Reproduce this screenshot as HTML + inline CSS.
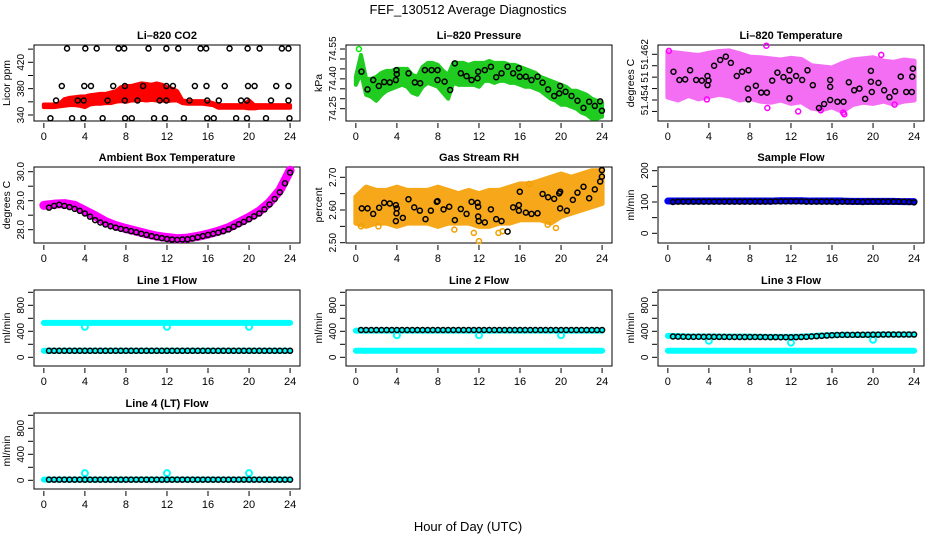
<!DOCTYPE html>
<html><head><meta charset="utf-8"><style>
html,body{margin:0;padding:0;background:#fff;}
svg{display:block;font-family:"Liberation Sans",Arial,sans-serif;}
</style></head><body>
<svg id="chart" width="936" height="540" viewBox="0 0 936 540" xmlns="http://www.w3.org/2000/svg">
<rect x="0" y="0" width="936" height="540" fill="#fff"/>
<text x="468" y="14" text-anchor="middle" font-size="13">FEF_130512  Average Diagnostics</text>
<text x="468" y="531" text-anchor="middle" font-size="13">Hour of Day (UTC)</text>
</svg>
<script>
// ---------- data ----------
const xTicks=[0,4,8,12,16,20,24];
const halfHours=[0,0.5,1,1.5,2,2.5,3,3.5,4,4.5,5,5.5,6,6.5,7,7.5,8,8.5,9,9.5,10,10.5,11,11.5,12,12.5,13,13.5,14,14.5,15,15.5,16,16.5,17,17.5,18,18.5,19,19.5,20,20.5,21,21.5,22,22.5,23,23.5,24];
const hours=[0,1,2,3,4,5,6,7,8,9,10,11,12,13,14,15,16,17,18,19,20,21,22,23,24];
const blackHours=[0.5,1,1.5,2,2.5,3,3.5,4,4.5,5,5.5,6,6.5,7,7.5,8,8.5,9,9.5,10,10.5,11,11.5,12,12.5,13,13.5,14,14.5,15,15.5,16,16.5,17,17.5,18,18.5,19,19.5,20,20.5,21,21.5,22,22.5,23,23.5,24];

// CO2
const co2Lo=[352,352,352,353,354,355,355,354,352,356,357,357,358,358,360,361,360,362,362,363,362,363,362,362,361,362,362,358,357,357,357,357,356,355,351,351,351,351,351,351,350,350,351,351,351,351,351,351,351];
const co2Hi=[356,356,356,357,364,366,367,368,368,370,371,372,372,374,376,382,384,384,386,388,387,386,388,386,382,380,376,362,361,361,361,361,360,358,355,355,355,355,355,355,362,355,355,355,355,355,355,355,355];
const co2BlackHours=[2.26,4.04,5.15,7.28,7.83,10.2,11.94,13.1,15.27,15.82,18.1,19.86,21.03,23.2,23.84,
 1.75,3.94,4.59,6.76,7.9,9.67,11.94,12.58,14.72,15.85,17.63,19.9,20.54,22.65,23.84,
 1.19,3.3,3.88,6.21,7.89,9.13,11.29,11.94,14.2,15.92,17.05,19.22,19.8,22.14,23.84,
 0.64,2.75,3.85,5.73,7.92,8.57,10.74,11.8,13.65,15.92,16.56,18.74,19.8,21.65,23.94];
const co2BlackVals=[441,441,441,441,441,441,441,441,441,441,441,441,441,441,441,
 384,384,384,384,384,384,384,384,384,384,384,384,384,384,384,
 362,362,362,362,362,362,362,362,362,362,362,362,362,362,362,
 335,335,335,335,335,335,335,335,335,335,335,335,335,335,335];

// Pressure
const presLo=[74.37,74.43,74.32,74.31,74.29,74.32,74.34,74.35,74.36,74.37,74.36,74.33,74.32,74.36,74.38,74.37,74.36,74.33,74.30,74.38,74.37,74.37,74.37,74.37,74.36,74.39,74.39,74.38,74.39,74.39,74.38,74.38,74.37,74.36,74.36,74.35,74.34,74.32,74.30,74.29,74.27,74.27,74.26,74.25,74.23,74.22,74.20,74.20,74.21];
const presHi=[74.41,74.52,74.40,74.40,74.41,74.43,74.44,74.44,74.45,74.45,74.45,74.42,74.41,74.46,74.48,74.48,74.47,74.44,74.42,74.48,74.48,74.48,74.47,74.48,74.48,74.48,74.49,74.48,74.48,74.48,74.47,74.47,74.46,74.45,74.44,74.43,74.41,74.40,74.39,74.38,74.37,74.36,74.34,74.34,74.33,74.32,74.30,74.29,74.28];
const presBlackHours=[0.55,1.14,1.69,2.24,2.76,3.31,3.9,3.96,3.99,5.14,5.75,6.27,6.73,7.38,7.96,7.96,8.65,9.19,9.65,10.23,10.79,11.28,11.86,11.92,12.57,13.16,13.68,14.2,14.79,15.33,15.89,15.98,16.57,17.12,17.71,18.2,18.74,19.33,19.82,19.91,20.44,21.02,21.6,22.19,22.74,23.29,23.81,23.98];
const presBlackVals=[74.436,74.347,74.394,74.364,74.384,74.382,74.394,74.444,74.424,74.428,74.382,74.378,74.444,74.444,74.394,74.444,74.386,74.344,74.478,74.428,74.414,74.394,74.403,74.436,74.444,74.461,74.408,74.428,74.461,74.428,74.453,74.411,74.411,74.394,74.411,74.381,74.347,74.314,74.327,74.364,74.335,74.314,74.29,74.254,74.285,74.264,74.287,74.24];
const presSpikeHours=[0.3];
const presSpikeVals=[74.55];

// Li-820 temperature
const tempLo=[51.4545,51.4540,51.4548,51.4542,51.4546,51.4550,51.4547,51.4540,51.4543,51.4538,51.4536,51.4540,51.4534,51.4537,51.4526,51.4523,51.4528,51.4520,51.4532,51.4536,51.4534,51.4538,51.4533,51.4538,51.4540];
const tempHi=[51.4624,51.4622,51.4620,51.4618,51.4622,51.4625,51.4626,51.4621,51.4615,51.4614,51.4612,51.4610,51.4613,51.4611,51.4600,51.4598,51.4596,51.4604,51.4610,51.4612,51.4614,51.4608,51.4606,51.4610,51.4608];
const tempOutHours=[0.1,9.6,12.7,17.1,17.2,22.1,3.8,9.7,14.9,20.8];
const tempOutVals=[51.4626,51.4635,51.4520,51.4518,51.4515,51.4532,51.4541,51.4526,51.4522,51.4619];
const tempBlackHours=[0.55,1.13,1.69,2.17,2.76,3.31,3.86,3.86,3.96,4.51,5.1,5.65,6.14,6.72,7.24,7.8,7.86,7.86,8.58,9.1,9.65,10.17,10.68,11.27,11.85,11.85,11.85,12.5,13.09,13.61,14.13,14.73,15.23,15.82,15.82,15.82,16.53,17.12,17.64,18.16,18.67,19.23,19.79,19.79,19.88,20.53,21.08,21.6,22.15,22.7,23.23,23.78,23.88,23.82];
const tempBlackVals=[51.45895,51.4575,51.4576,51.4592,51.4575,51.4574,51.4582,51.4566,51.4574,51.4600,51.4610,51.4616,51.4605,51.4582,51.45895,51.4560,51.4541,51.4592,51.4565,51.4553,51.4553,51.4574,51.4588,51.4580,51.4592,51.4574,51.4543,51.4582,51.4575,51.4592,51.4566,51.4526,51.4533,51.4575,51.4563,51.4540,51.4537,51.4537,51.4571,51.4557,51.4560,51.4542,51.4572,51.4591,51.4554,51.4570,51.4557,51.4545,51.4555,51.4581,51.4554,51.4554,51.4595,51.4581];

// Ambient box temperature
const ambLine=[28.84,28.88,28.90,28.84,28.66,28.48,28.28,28.14,28.04,27.95,27.86,27.78,27.73,27.69,27.71,27.77,27.85,27.95,28.07,28.25,28.43,28.64,28.94,29.36,30.05];
const ambBlack=[28.76,28.82,28.86,28.82,28.78,28.72,28.65,28.56,28.45,28.33,28.25,28.18,28.12,28.07,28.03,27.99,27.95,27.91,27.86,27.82,27.78,27.74,27.71,27.68,27.66,27.65,27.66,27.67,27.70,27.74,27.78,27.82,27.86,27.90,27.95,28.01,28.10,28.19,28.27,28.36,28.46,28.56,28.70,28.87,29.06,29.29,29.60,29.97];

// Gas stream RH
const rhHi=[2.64,2.67,2.66,2.66,2.67,2.66,2.66,2.66,2.67,2.66,2.65,2.66,2.65,2.66,2.66,2.67,2.68,2.68,2.69,2.70,2.71,2.70,2.71,2.72,2.72];
const rhLo=[2.56,2.55,2.56,2.56,2.55,2.56,2.56,2.56,2.55,2.56,2.56,2.56,2.55,2.55,2.56,2.56,2.57,2.57,2.57,2.56,2.58,2.59,2.60,2.61,2.62];
const rhOutHours=[12,11.5,14.3,13.9,19.5,9.6,2.2,18.7,16.9,0.5];
const rhOutVals=[2.505,2.53,2.535,2.53,2.545,2.54,2.55,2.555,2.68,2.55];
const rhBlackHours=[0.58,1.14,1.69,2.27,2.76,3.31,3.9,3.96,3.99,3.9,4.58,5.13,5.69,6.24,6.79,7.31,7.89,7.96,8.55,9.1,9.65,10.23,10.79,11.28,11.86,11.92,11.92,11.98,12.57,13.16,13.68,14.2,14.79,15.33,15.89,15.89,15.98,16.57,17.12,17.71,18.2,18.74,19.33,19.82,19.91,19.91,20.57,21.15,21.6,22.19,22.74,23.29,23.81,23.98,23.98];
const rhBlackVals=[2.605,2.605,2.588,2.607,2.622,2.62,2.615,2.59,2.605,2.566,2.576,2.633,2.608,2.598,2.572,2.598,2.625,2.627,2.602,2.61,2.569,2.603,2.588,2.625,2.622,2.61,2.58,2.566,2.562,2.602,2.572,2.566,2.534,2.608,2.598,2.615,2.656,2.592,2.588,2.59,2.649,2.639,2.634,2.651,2.656,2.605,2.598,2.631,2.653,2.671,2.636,2.663,2.687,2.702,2.722];

// Sample flow
const sampleBand=[103,103,103,103,103,103,103,103,103,103,103,104,104,104,103,103,103,103,102,102,102,102,102,101,101];
const sampleBlack=[100,101,101,101,101,101,101,101,101,101,101,101,101,101,101,101,101,101,101,101,102,102,102,102,102,102,101,101,101,101,101,101,100,101,101,101,101,100,101,101,101,101,101,101,101,101,100,99];

// Line flows
const dipHours=[4,12,20];
const line1Hi=[530,530,530,530,530,530,530,530,530,530,530,530,530,530,530,530,530,530,530,530,530,530,530,530,530];
const line1Lo=[100,100,100,100,100,100,100,100,100,100,100,100,100,100,100,100,100,100,100,100,100,100,100,100,100];
const line1Dips=[470,470,470];
const line1Black=[100,100,100,100,100,100,100,100,100,100,100,100,100,100,100,100,100,100,100,100,100,100,100,100,100,100,100,100,100,100,100,100,100,100,100,100,100,100,100,100,100,100,100,100,100,100,100,100];
const line2Hi=[410,410,410,410,410,410,410,410,410,410,410,410,410,410,410,410,410,410,410,410,410,410,410,410,410];
const line2Lo=[100,100,100,100,100,100,100,100,100,100,100,100,100,100,100,100,100,100,100,100,100,100,100,100,100];
const line2Dips=[340,340,340];
const line2Black=[420,420,420,420,420,420,420,420,420,420,420,420,420,420,420,420,420,420,420,420,420,420,420,420,420,420,420,420,420,420,420,420,420,420,420,420,420,420,420,420,420,420,420,420,420,420,420,420];
const line3Hi=[330,325,320,320,320,318,318,318,318,315,315,315,315,318,325,335,340,345,345,345,348,350,350,350,350];
const line3Lo=[100,100,100,100,100,100,100,100,100,100,100,100,100,100,100,100,100,100,100,100,100,100,100,100,100];
const line3Dips=[255,225,270];
const line3Black=[320,318,316,315,315,316,315,316,315,314,314,313,313,312,312,312,313,312,311,310,310,309,309,309,310,312,315,320,325,330,335,340,343,345,345,345,346,346,347,348,348,350,350,350,350,350,350,350];
const line4Hi=[10,10,10,10,10,10,10,10,10,10,10,10,10,10,10,10,10,10,10,10,10,10,10,10,10];
const line4Dips=[110,110,110];
const line4Black=[10,10,10,10,10,10,10,10,10,10,10,10,10,10,10,10,10,10,10,10,10,10,10,10,10,10,10,10,10,10,10,10,10,10,10,10,10,10,10,10,10,10,10,10,10,10,10,10];

// ---------- drawing ----------
const NS='http://www.w3.org/2000/svg';
const svg=document.getElementById('chart');
const COLX=[34,346,658], ROWY=[45,167,290,413], W=266, H=76;
function add(parent,tag,attrs,name){
  const el=document.createElementNS(NS,tag);
  for(const k in attrs) el.setAttribute(k,attrs[k]);
  
  
  parent.appendChild(el);
  return el;
}
function panel(cfg){
  const L=COLX[cfg.c], T=ROWY[cfg.r];
  const g=add(svg,'g',{},cfg.name+'-panel');
  const xs=h=>L+9.85+h*10.26;
  const [v1,o1,v2,o2]=cfg.ref;
  const ys=v=>T+o1+(v-v1)*(o2-o1)/(v2-v1);
  const t=add(g,'text',{x:L+W/2,y:T-6,'text-anchor':'middle','font-size':11,'font-weight':'bold'},cfg.name+'-title');
  t.textContent=cfg.title;
  const plot=add(g,'g',{},cfg.name+'-plot-area');
  add(plot,'rect',{x:L,y:T,width:W,height:H,fill:'none',stroke:'#000','stroke-width':1},cfg.name+'-frame');
  xTicks.forEach(h=>{
    const x=xs(h);
    add(g,'line',{x1:x,x2:x,y1:T+H+2,y2:T+H+7,stroke:'#000'},cfg.name+'-x-tick');
    const lb=add(g,'text',{x:x,y:T+H+19,'text-anchor':'middle','font-size':11},cfg.name+'-x-tick-label');
    lb.textContent=String(h);
  });
  cfg.yticks.forEach(v=>{
    const y=ys(v);
    add(g,'line',{x1:L-6,x2:L-1,y1:y,y2:y,stroke:'#000'},cfg.name+'-y-tick');
  });
  cfg.ylabels.forEach((lab,i)=>{
    const y=ys(cfg.ylabelVals[i]);
    const tx=add(g,'text',{x:0,y:0,'text-anchor':'middle','font-size':10,transform:`translate(${L-10},${y}) rotate(-90)`},cfg.name+'-y-tick-label');
    tx.textContent=lab;
  });
  const yt=add(g,'text',{x:0,y:0,'text-anchor':'middle','font-size':10.5,transform:`translate(${L-24},${T+H/2}) rotate(-90)`},cfg.name+'-y-axis-title');
  yt.textContent=cfg.ylab;
  cfg.draw(plot,xs,ys);
}
function band(p,xs,ys,hrs,lo,hi,color,name,sw){
  let pts=hrs.map((h,i)=>xs(h)+','+ys(hi[i]));
  for(let i=hrs.length-1;i>=0;i--) pts.push(xs(hrs[i])+','+ys(lo[i]));
  add(p,'polygon',{points:pts.join(' '),fill:color,stroke:color,'stroke-width':sw||4,'stroke-linejoin':'round'},name);
}
function line(p,xs,ys,hrs,vals,color,w,name){
  add(p,'polyline',{points:hrs.map((h,i)=>xs(h)+','+ys(vals[i])).join(' '),fill:'none',stroke:color,'stroke-width':w,'stroke-linejoin':'round','stroke-linecap':'round'},name);
}
function circles(p,xs,ys,hrs,vals,color,name,r,sw){
  hrs.forEach((h,i)=>{
    add(p,'circle',{cx:xs(h),cy:ys(vals[i]),r:r||2.5,fill:'none',stroke:color,'stroke-width':sw||1.5},name);
  });
}
const flowTicks=[0,200,400,600,800,1000];
const flowCfg={yticks:flowTicks,ylabels:['0','400','800'],ylabelVals:[0,400,800],ref:[0,67.3,800,15.3],ylab:'ml/min'};

panel({c:0,r:0,name:'co2',title:'Li–820 CO2',ylab:'Licor ppm',ref:[340,70,420,17.3],
  yticks:[340,360,380,400,420,440],ylabels:['340','380','420'],ylabelVals:[340,380,420],
  draw:(p,xs,ys)=>{band(p,xs,ys,halfHours,co2Lo,co2Hi,'#ff0000','co2-minute-band');
    circles(p,xs,ys,co2BlackHours,co2BlackVals,'#000','co2-hourly-point');}});
panel({c:1,r:0,name:'pressure',title:'Li–820 Pressure',ylab:'kPa',ref:[74.25,63.7,74.55,4],
  yticks:[74.25,74.30,74.35,74.40,74.45,74.50,74.55],ylabels:['74.25','74.40','74.55'],ylabelVals:[74.25,74.40,74.55],
  draw:(p,xs,ys)=>{band(p,xs,ys,halfHours,presLo,presHi,'#1fcc1f','pressure-minute-band');
    circles(p,xs,ys,presSpikeHours,presSpikeVals,'#00ee00','pressure-spike-point');
    circles(p,xs,ys,presBlackHours,presBlackVals,'#000','pressure-hourly-point');}});
panel({c:2,r:0,name:'li820-temp',title:'Li–820 Temperature',ylab:'degrees C',ref:[51.454,55,51.462,9.3],
  yticks:[51.452,51.454,51.456,51.458,51.460,51.462],ylabels:['51.454','51','51.462'],ylabelVals:[51.454,51.458,51.462],
  draw:(p,xs,ys)=>{band(p,xs,ys,halfHours.length?hours:hours,tempLo,tempHi,'#f46ef4','li820-temp-minute-band',5);
    circles(p,xs,ys,tempOutHours,tempOutVals,'#ff00ff','li820-temp-outlier');
    circles(p,xs,ys,tempBlackHours,tempBlackVals,'#000','li820-temp-hourly-point');}});
panel({c:0,r:1,name:'ambient',title:'Ambient Box Temperature',ylab:'degrees C',ref:[28,62.7,30,4.7],
  yticks:[28,28.5,29,29.5,30],ylabels:['28.0','29.0','30.0'],ylabelVals:[28,29,30],
  draw:(p,xs,ys)=>{line(p,xs,ys,hours,ambLine,'#ff00ff',9,'ambient-minute-line');
    circles(p,xs,ys,blackHours,ambBlack,'#000','ambient-hourly-point');}});
panel({c:1,r:1,name:'rh',title:'Gas Stream RH',ylab:'percent',ref:[2.5,75.7,2.7,10.3],
  yticks:[2.5,2.55,2.6,2.65,2.7],ylabels:['2.50','2.60','2.70'],ylabelVals:[2.5,2.6,2.7],
  draw:(p,xs,ys)=>{band(p,xs,ys,hours,rhLo,rhHi,'#f7a81a','rh-minute-band',5);
    circles(p,xs,ys,rhOutHours,rhOutVals,'#f0a000','rh-outlier');
    circles(p,xs,ys,rhBlackHours,rhBlackVals,'#000','rh-hourly-point');}});
panel({c:2,r:1,name:'sample-flow',title:'Sample Flow',ylab:'ml/min',ref:[0,66.3,200,3.7],
  yticks:[0,50,100,150,200],ylabels:['0','100','200'],ylabelVals:[0,100,200],
  draw:(p,xs,ys)=>{line(p,xs,ys,hours,sampleBand,'#0000ee',7,'sample-flow-minute-line');
    circles(p,xs,ys,blackHours,sampleBlack,'#000','sample-flow-hourly-point');}});
panel(Object.assign({c:0,r:2,name:'line1-flow',title:'Line 1 Flow',
  draw:(p,xs,ys)=>{line(p,xs,ys,hours,line1Hi,'#00ffff',6,'line1-flow-high-line');
    line(p,xs,ys,hours,line1Lo,'#00ffff',6,'line1-flow-low-line');
    circles(p,xs,ys,dipHours,line1Dips,'#00ffff','line1-flow-dip',3,2);
    circles(p,xs,ys,blackHours,line1Black,'#000','line1-flow-hourly-point');}},flowCfg));
panel(Object.assign({c:1,r:2,name:'line2-flow',title:'Line 2 Flow',
  draw:(p,xs,ys)=>{line(p,xs,ys,hours,line2Hi,'#00ffff',6,'line2-flow-high-line');
    line(p,xs,ys,hours,line2Lo,'#00ffff',6,'line2-flow-low-line');
    circles(p,xs,ys,dipHours,line2Dips,'#00ffff','line2-flow-dip',3,2);
    circles(p,xs,ys,blackHours,line2Black,'#000','line2-flow-hourly-point');}},flowCfg));
panel(Object.assign({c:2,r:2,name:'line3-flow',title:'Line 3 Flow',
  draw:(p,xs,ys)=>{line(p,xs,ys,hours,line3Hi,'#00ffff',6,'line3-flow-high-line');
    line(p,xs,ys,hours,line3Lo,'#00ffff',6,'line3-flow-low-line');
    circles(p,xs,ys,dipHours,line3Dips,'#00ffff','line3-flow-dip',3,2);
    circles(p,xs,ys,blackHours,line3Black,'#000','line3-flow-hourly-point');}},flowCfg));
panel(Object.assign({c:0,r:3,name:'line4-flow',title:'Line 4 (LT) Flow',
  draw:(p,xs,ys)=>{line(p,xs,ys,hours,line4Hi,'#00ffff',6,'line4-flow-line');
    circles(p,xs,ys,dipHours,line4Dips,'#00ffff','line4-flow-dip',3,2);
    circles(p,xs,ys,blackHours,line4Black,'#000','line4-flow-hourly-point');}},flowCfg));
</script>
</body></html>
